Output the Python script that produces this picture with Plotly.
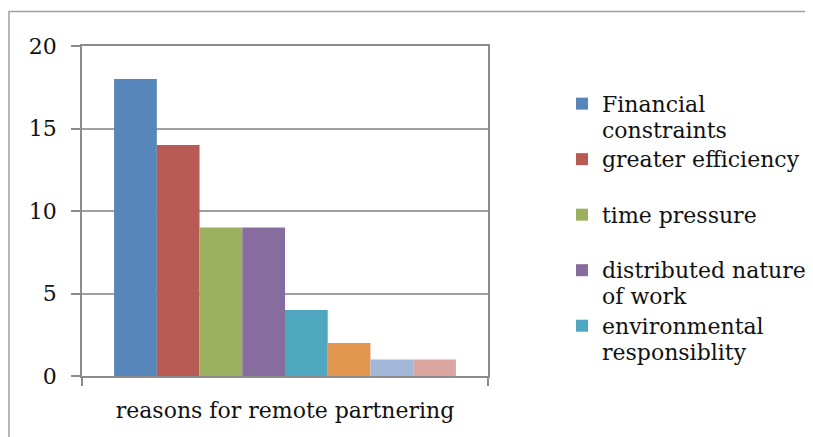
import plotly.graph_objects as go

category = ["reasons for remote partnering"]
series_names = [
    "Financial<br>constraints",
    "greater efficiency<br> ",
    "time pressure<br> ",
    "distributed nature<br>of work",
    "environmental<br>responsiblity",
    "other reason 6",
    "other reason 7",
    "other reason 8",
]
series_values = [18, 14, 9, 9, 4, 2, 1, 1]
series_colors = ["#5686BA", "#B95B55", "#9CB160", "#866D9E", "#50A8C0",
                 "#E3964F", "#A3B8D9", "#DBA6A2"]
legend_shown = [True, True, True, True, True, False, False, False]
y_ticks = [0, 5, 10, 15, 20]

FONT = "DejaVu Serif"
TXT = 22

fig = go.Figure()
for name, val, col, show in zip(series_names, series_values, series_colors, legend_shown):
    label = "<br>".join(f'<span style="font-size:{TXT}px">{part}</span>'
                        for part in name.split("<br>"))
    fig.add_trace(go.Bar(
        x=category, y=[val], name=label,
        marker=dict(color=col, line=dict(width=0)),
        showlegend=show,
    ))

# the page adds an 8px body margin; screen coords = figure coords + 8.
# The figure is made wider than the window so the legend never forces
# plotly to shrink the plot area.
OFF = 8
W, H = 840, 437
PL, PR, PT, PB = 82, 488, 46, 376   # plot area in screen pixels
L, R, T, B = PL - OFF, W - (PR - OFF), PT - OFF, H - (PB - OFF)
pw, ph = PR - PL, PB - PT

def px(x):
    return (x - PL) / pw

def py(y):
    return (PB - y) / ph

fig.update_layout(
    width=W, height=H,
    margin=dict(l=L, r=R, t=T, b=B),
    paper_bgcolor="white", plot_bgcolor="white",
    barmode="group", bargap=0.158, bargroupgap=0,
    font=dict(family=FONT, size=TXT, color="#111"),
    legend=dict(
        x=px(562), y=py(84), xanchor="left", yanchor="top",
        font=dict(family=FONT, size=20.2, color="#111"),
        tracegroupgap=0, valign="top",
        bgcolor="rgba(0,0,0,0)",
    ),
    shapes=[dict(
        type="rect", xref="paper", yref="paper",
        x0=px(9), x1=px(900), y0=py(460), y1=py(11.5),
        line=dict(color="#a0a0a0", width=1.5), layer="below",
    )],
)
fig.update_xaxes(
    showline=True, linecolor="#8c8c8c", linewidth=1.5, mirror=True,
    ticks="outside", tickson="boundaries", ticklen=8, tickcolor="#8c8c8c",
    tickwidth=1.5, showgrid=False, ticklabelstandoff=14,
    tickfont=dict(family=FONT, size=TXT, color="#111"),
)
fig.update_yaxes(
    range=[0, 20], tickvals=y_ticks, showline=True, linecolor="#8c8c8c",
    linewidth=1.5, mirror=True, ticks="outside", ticklen=9,
    tickcolor="#8c8c8c", tickwidth=1.5, showgrid=True, gridcolor="#a0a0a0",
    gridwidth=1.5, zeroline=False, ticklabelstandoff=10,
    tickfont=dict(family=FONT, size=TXT, color="#111"),
)
fig.write_html("out.html")
